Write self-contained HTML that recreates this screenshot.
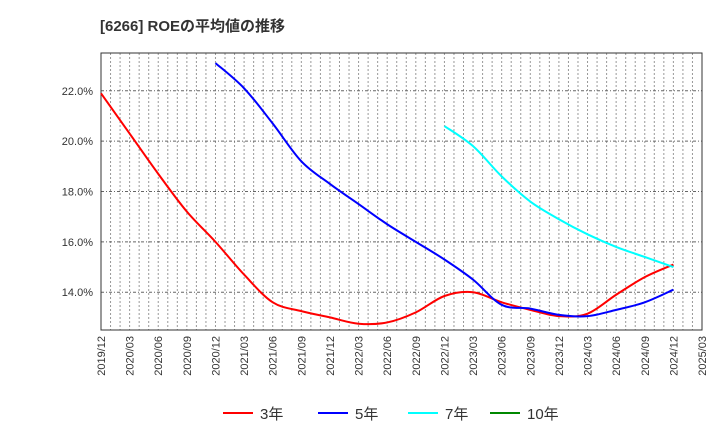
<!DOCTYPE html>
<html><head><meta charset="utf-8"><style>
body{margin:0;background:#fff;font-family:"Liberation Sans","Noto Sans CJK JP",sans-serif}
</style></head><body>
<svg id="c" width="720" height="440" xmlns="http://www.w3.org/2000/svg" font-family="Liberation Sans, Noto Sans CJK JP, sans-serif">
<text x="100" y="31" font-size="15" font-weight="bold" fill="#333">[6266]  ROEの平均値の推移</text>
<g id="grid"></g><g id="axes"></g><g id="series"></g><g id="legend"></g>
</svg>
<script>
const xLabels=["2019/12","2020/03","2020/06","2020/09","2020/12","2021/03","2021/06","2021/09","2021/12","2022/03","2022/06","2022/09","2022/12","2023/03","2023/06","2023/09","2023/12","2024/03","2024/06","2024/09","2024/12","2025/03"];
const yTicks=[14,16,18,20,22];
const s3=[21.9,20.3,18.7,17.2,16.0,14.7,13.6,13.25,13.0,12.75,12.8,13.2,13.85,14.0,13.6,13.3,13.05,13.15,13.9,14.6,15.1];
const s5=[null,null,null,null,23.1,22.1,20.7,19.2,18.3,17.5,16.7,16.0,15.3,14.5,13.5,13.35,13.1,13.05,13.3,13.6,14.1];
const s7=[null,null,null,null,null,null,null,null,null,null,null,null,20.6,19.8,18.6,17.6,16.9,16.3,15.8,15.4,15.0];
const s10=[];
const L=101,R=702,T=53,B=330,yMin=12.5,yMax=23.5;
const X=i=>L+(R-L)*i/(xLabels.length-1);
const Y=v=>B-(v-yMin)/(yMax-yMin)*(B-T);
const NS="http://www.w3.org/2000/svg";
function mk(p,t,a){const e=document.createElementNS(NS,t);for(const k in a)e.setAttribute(k,a[k]);p.appendChild(e);return e;}
const grid=document.getElementById('grid'),axes=document.getElementById('axes'),ser=document.getElementById('series'),leg=document.getElementById('legend');
for(let m=1;m<(xLabels.length-1)*3;m++){const x=L+(R-L)*m/((xLabels.length-1)*3);
const g=mk(grid,'line',{x1:x,x2:x,y1:T,y2:B,stroke:'#999','stroke-dasharray':'2,2','stroke-width':1});

}
yTicks.forEach(v=>{const g=mk(grid,'line',{x1:L,x2:R,y1:Y(v),y2:Y(v),stroke:'#666','stroke-dasharray':'3,2,1,2','stroke-width':1});


const t=mk(axes,'text',{x:L-8,y:Y(v)+4,'text-anchor':'end','font-size':11,fill:'#333'});t.textContent=v.toFixed(1)+'%';

});
const fr=mk(axes,'rect',{x:L,y:T,width:R-L,height:B-T,fill:'none',stroke:'#333','stroke-width':1});


xLabels.forEach((l,i)=>{const t=mk(axes,'text',{transform:`translate(${X(i)+4},${B+6}) rotate(-90)`,'text-anchor':'end','font-size':11,fill:'#333'});t.textContent=l;

});
function path(arr){const pts=[];arr.forEach((v,i)=>{if(v!=null)pts.push([X(i),Y(v)]);});if(!pts.length)return '';
let d=`M${pts[0][0]},${pts[0][1]}`;for(let i=0;i<pts.length-1;i++){const p0=pts[Math.max(0,i-1)],p1=pts[i],p2=pts[i+1],p3=pts[Math.min(pts.length-1,i+2)];
d+=` C${p1[0]+(p2[0]-p0[0])/6},${p1[1]+(p2[1]-p0[1])/6} ${p2[0]-(p3[0]-p1[0])/6},${p2[1]-(p3[1]-p1[1])/6} ${p2[0]},${p2[1]}`;}return d;}
const S=[["3年",s3,"#f00","series-3yr"],["5年",s5,"#00f","series-5yr"],["7年",s7,"#0ff","series-7yr"],["10年",s10,"#080","series-10yr"]];
S.forEach(([n,a,c,nm])=>{const d=path(a);if(d){const p=mk(ser,'path',{d:d,fill:'none',stroke:c,'stroke-width':2});

}});
const lx=[223,318,408,490];
S.forEach(([n,a,c,nm],i)=>{const g=mk(leg,'g',{});


mk(g,'line',{x1:lx[i],x2:lx[i]+30,y1:413,y2:413,stroke:c,'stroke-width':2});
const t=mk(g,'text',{x:lx[i]+37,y:419,'font-size':15,fill:'#333'});t.textContent=n;});
</script>
</body></html>
